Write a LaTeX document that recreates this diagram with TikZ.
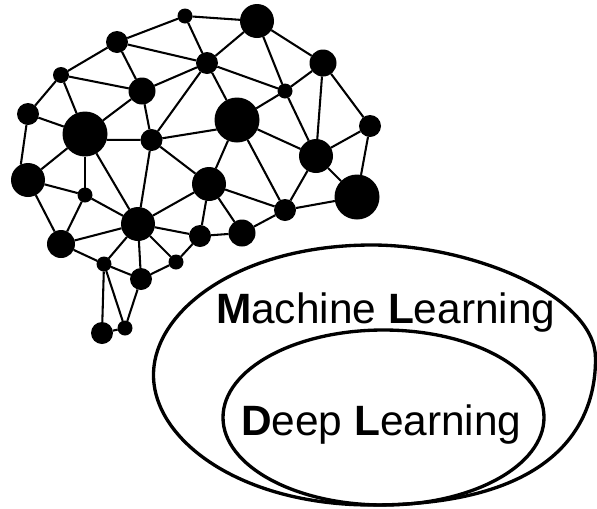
\documentclass[tikz,border=0pt]{standalone}
\usepackage{fontspec}
\setmainfont{Liberation Sans}
\tikzset{x=0.75pt,y=-0.75pt,
 dot/.style={circle,fill=black,inner sep=0pt,outer sep=0pt,minimum size=#1*0.75pt},
 link/.style={line width=1.55pt},
 ring/.style={line width=2.5pt},
 lab/.style={font=\fontsize{31.8pt}{34pt}\selectfont,inner sep=0pt,outer sep=0pt,text=black,anchor=base west}}
\begin{document}
\begin{tikzpicture}
\useasboundingbox (0,0) rectangle (597,508);
\node[dot=15] (a) at (185,16) {};
\node[dot=34] (b) at (257,21) {};
\node[dot=22] (c) at (117,42) {};
\node[dot=22] (d) at (207,63) {};
\node[dot=27] (e) at (323,63) {};
\node[dot=16] (f) at (61,75) {};
\node[dot=27] (g) at (142,91) {};
\node[dot=15] (h) at (285,91) {};
\node[dot=22] (i) at (28,114) {};
\node[dot=45] (j) at (85,134) {};
\node[dot=45] (k) at (237,120) {};
\node[dot=22] (l) at (151.5,140) {};
\node[dot=22] (m) at (370,126) {};
\node[dot=34] (n) at (316,156) {};
\node[dot=34] (o) at (28,180) {};
\node[dot=15] (p) at (85,195) {};
\node[dot=34] (q) at (209,184) {};
\node[dot=45] (r) at (357,197) {};
\node[dot=22] (s) at (285,210) {};
\node[dot=34] (t) at (138,224) {};
\node[dot=27] (u) at (242,233) {};
\node[dot=22] (v) at (200,236) {};
\node[dot=28] (w) at (61,244) {};
\node[dot=15] (x) at (104,264) {};
\node[dot=15] (y) at (176,262) {};
\node[dot=22] (z) at (141,279) {};
\node[dot=15] (aa) at (125,328) {};
\node[dot=22] (ab) at (102,333) {};
\foreach \s/\e in {a/c,a/b,a/d,c/d,c/f,c/g,f/g,f/i,f/j,g/j,g/l,g/d,d/b,d/h,d/l,d/k,b/h,b/e,e/h,e/n,e/m,h/k,h/n,k/n,k/q,k/s,m/n,m/r,n/r,n/s,r/s,i/j,j/o,j/p,j/t,l/t,l/q,o/p,o/w,p/w,p/t,q/t,q/v,q/u,q/s,s/u,t/w,t/x,t/z,t/v,t/y,w/x,x/z,x/ab,x/aa,z/aa,z/y,y/v,v/u,aa/ab}
  \draw[link] (\s) -- (\e);
\draw[link] (i) -- (o.115);
\draw[link] (j.345) -- (l);
\draw[link] (l) -- (k.205);
\draw[ring] (153.5,375) .. controls (153.5,310) and (240,245) .. (372,245)
  .. controls (470,245) and (595,295) .. (595.5,358)
  .. controls (596,420) and (560,505) .. (372,505)
  .. controls (240,505) and (153.5,440) .. (153.5,375) -- cycle;
\draw[ring] (383.5,417.5) ellipse [x radius=160.5,y radius=87.5];
\node[lab] (ml) at (216,323) {\textbf{M}achine \textbf{L}earning};
\node[lab] (dl) at (241,435) {\textbf{D}eep \textbf{L}earning};
\end{tikzpicture}
\end{document}
